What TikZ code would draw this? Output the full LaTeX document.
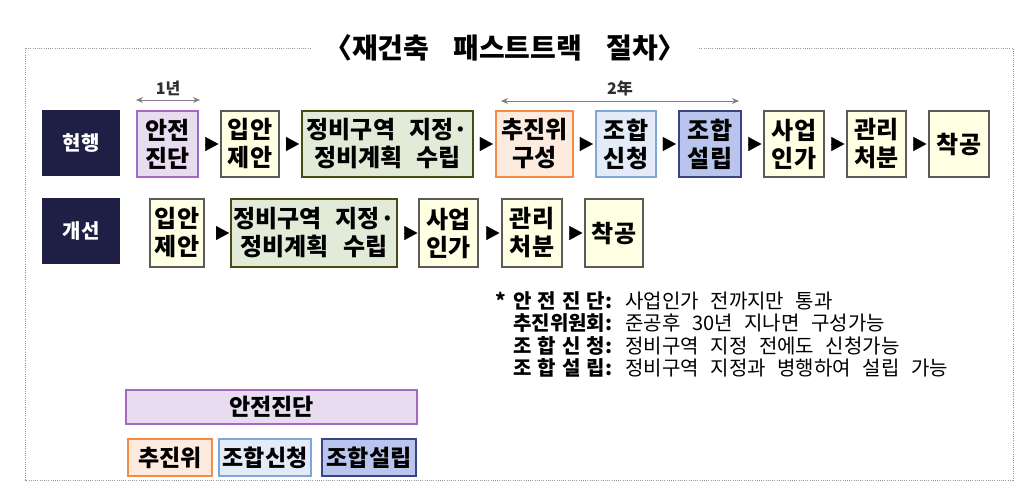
\documentclass[tikz,border=0pt]{standalone}
\usepackage{fontspec}
\setmainfont{Noto Sans CJK KR}
\newfontfamily\krbox{Noto Sans CJK KR}[WordSpace=2.0]
\newfontfamily\krnote{Noto Sans CJK KR}[WordSpace=2.6]
\usetikzlibrary{arrows.meta, positioning, calc}
\definecolor{navy}{HTML}{1F1F45}
\definecolor{lineyel}{HTML}{5A5A5A}
\definecolor{fillyel}{HTML}{FFFFE3}
\definecolor{linegrn}{HTML}{4A4A12}
\definecolor{fillgrn}{HTML}{E2EAD8}
\definecolor{linepur}{HTML}{A469C4}
\definecolor{fillpur}{HTML}{E8DCF0}
\definecolor{lineorg}{HTML}{F58B45}
\definecolor{fillorg}{HTML}{FDEBDF}
\definecolor{lineblu}{HTML}{7EA6D8}
\definecolor{fillblu}{HTML}{E2EBF7}
\definecolor{linenvb}{HTML}{3B4287}
\definecolor{fillnvb}{HTML}{B9C5EC}
\definecolor{ink}{HTML}{303030}
\tikzset{
    stage/.style={draw=lineyel, fill=fillyel, line width=1.2pt, align=center, inner sep=0pt,
                  minimum height=66pt, font=\krbox\bfseries\fontsize{24pt}{28pt}\selectfont},
    grnstage/.style={stage, draw=linegrn, fill=fillgrn, line width=1.8pt},
    purstage/.style={stage, draw=linepur, fill=fillpur, line width=2.2pt},
    orgstage/.style={stage, draw=lineorg, fill=fillorg, line width=2.2pt},
    blustage/.style={stage, draw=lineblu, fill=fillblu, line width=2.2pt},
    nvbstage/.style={stage, draw=linenvb, fill=fillnvb, line width=2.2pt},
    rowtag/.style={fill=navy, text=white, inner sep=0pt, minimum width=78pt, minimum height=66pt,
                   font=\bfseries\fontsize{20pt}{22pt}\selectfont},
    tri/.style={-{Triangle[length=13pt,width=14pt]}, line width=0.1pt, shorten <=7pt, shorten >=2pt},
    span/.style={{Stealth[length=7pt,width=6pt]}-{Stealth[length=7pt,width=6pt]}, line width=1pt, gray},
    spanlbl/.style={text=ink, font=\bfseries\fontsize{16pt}{18pt}\selectfont, inner sep=1pt},
    note/.style={anchor=base west, inner sep=0pt, font=\krnote\fontsize{20pt}{22pt}\selectfont},
    legend/.style={line width=2.2pt, inner sep=0pt, font=\bfseries\fontsize{23pt}{26pt}\selectfont},
    frame/.style={gray!80, line width=1pt, dash pattern=on 1pt off 1.2pt},
    title/.style={fill=white, inner xsep=12pt, inner ysep=2pt, font=\bfseries\fontsize{28pt}{30pt}\selectfont}
}

\begin{document}
\begin{tikzpicture}[x=1pt, y=-1pt]
    \useasboundingbox (0,0) rectangle (1026,496);
    % frame and title
    \draw[frame] (25,48) rectangle (1013,480);
    \node[title] (ttl) at (505,48) {〈재건축\hspace{24pt}패스트트랙\hspace{24pt}절차〉};

    % current process
    \node[rowtag] (now) at (81,143) {현행};
    \node[purstage, minimum width=61pt] (r1a) at (167.5,144) {안전\\진단};
    \node[stage, minimum width=58pt] (r1b) at (250,144) {입안\\제안};
    \node[grnstage, minimum width=171pt] (r1c) at (387.5,144) {정비구역 지정·\\정비계획 수립};
    \node[orgstage, minimum width=77pt] (r1d) at (534.5,144) {추진위\\구성};
    \node[blustage, minimum width=60pt] (r1e) at (626,144) {조합\\신청};
    \node[nvbstage, minimum width=62pt] (r1f) at (710,144) {조합\\설립};
    \node[stage, minimum width=60pt] (r1g) at (794,144) {사업\\인가};
    \node[stage, minimum width=59pt] (r1h) at (876.5,144) {관리\\처분};
    \node[stage, minimum width=60pt] (r1i) at (959,144) {착공};
    \foreach \a/\b in {r1a/r1b, r1b/r1c, r1c/r1d, r1d/r1e, r1e/r1f, r1f/r1g, r1g/r1h, r1h/r1i}
        \draw[tri] (\a) -- (\b);

    % durations
    \coordinate (s1a) at (136,100);
    \coordinate (s1b) at (200,100);
    \coordinate (s2a) at (501,101);
    \coordinate (s2b) at (739,101);
    \draw[span] (s1a) -- (s1b) node[spanlbl, midway, above=3pt] {1년};
    \draw[span] (s2a) -- (s2b) node[spanlbl, midway, above=3pt] {2年};

    % improved process
    \node[rowtag] (new) at (81,231) {개선};
    \node[stage, minimum width=54pt, minimum height=68pt] (r2a) at (177,233) {입안\\제안};
    \node[grnstage, minimum width=166pt, minimum height=68pt] (r2b) at (314,233) {정비구역 지정·\\정비계획 수립};
    \node[stage, minimum width=59pt, minimum height=68pt] (r2c) at (448.5,233) {사업\\인가};
    \node[stage, minimum width=60pt, minimum height=68pt] (r2d) at (532,233) {관리\\처분};
    \node[stage, minimum width=58pt, minimum height=68pt] (r2e) at (614,233) {착공};
    \draw[tri, shorten <=12pt, shorten >=1pt] (r2a) -- (r2b);
    \draw[tri, shorten <=6pt, shorten >=1pt] (r2b) -- (r2c);
    \draw[tri, shorten <=8pt] (r2c) -- (r2d);
    \draw[tri] (r2d) -- (r2e);

    % notes
    \foreach \lab/\txt [count=\k] in {
        {\llap{*\hspace{7pt}}안\hfill 전\hfill 진\hfill 단}/{사업인가 전까지만 통과},
        {추진위원회}/{준공후 30년 지나면 구성가능},
        {조\hfill 합\hfill 신\hfill 청}/{정비구역 지정 전에도 신청가능},
        {조\hfill 합\hfill 설\hfill 립}/{정비구역 지정과 병행하여 설립 가능}}
        \node[note] (n\k) at (513,{285.5+22.5*\k}) {\makebox[92pt][l]{\bfseries\lab}\textbf{:} \txt};

    % legend
    \node[legend, draw=linepur, fill=fillpur, minimum width=291pt, minimum height=34pt] (lg0) at (271.5,407) {안전진단};
    \node[legend, draw=lineorg, fill=fillorg, minimum width=84pt, minimum height=37pt] (lg1) at (170,457.5) {추진위};
    \node[legend, draw=lineblu, fill=fillblu, minimum width=92pt, minimum height=37pt] (lg2) at (265,457.5) {조합신청};
    \node[legend, draw=linenvb, fill=fillnvb, minimum width=94pt, minimum height=37pt] (lg3) at (369,457.5) {조합설립};
\end{tikzpicture}
\end{document}
